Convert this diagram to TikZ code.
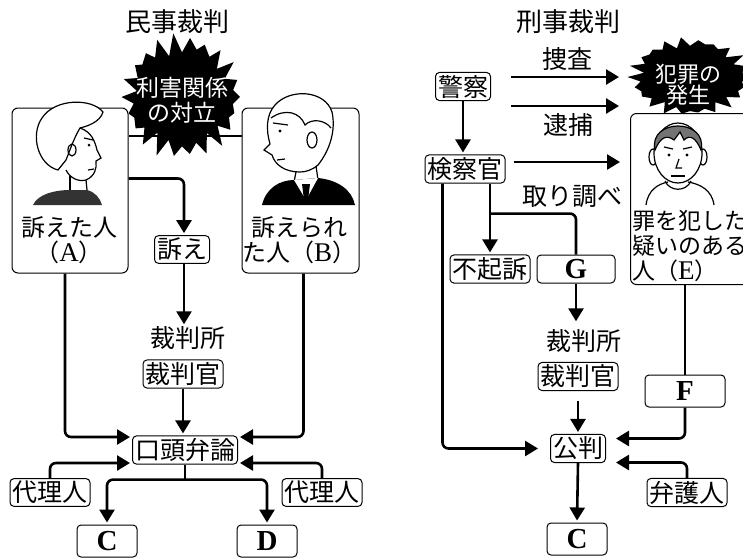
\documentclass[tikz,border=0pt]{standalone}
\usepackage{fontspec}
\usetikzlibrary{arrows.meta,calc,positioning}
\newfontfamily\jp{Noto Sans CJK JP}
\newfontfamily\lt{Liberation Serif}
\newcommand{\letr}[1]{{\lt\fontsize{27}{25}\selectfont #1}}
% spiky burst: centre x, centre y, outer rx, outer ry, inner rx, inner ry
\newcommand{\spiky}[6]{%
  \fill[black] plot[samples at={0,...,43}, variable=\k]
    ({#1+(#3*(1+0.06*sin(\k*137))-(#3-#5)*mod(\k,2))*cos(\k*360/44)},
     {#2+(#4*(1+0.06*sin(\k*137))-(#4-#6)*mod(\k,2))*sin(\k*360/44)}) -- cycle;}

\begin{document}
\begin{tikzpicture}[x=1pt,y=-1pt,
  box/.style={draw,rounded corners=4pt,line width=1pt,inner sep=2.5pt,
    font=\jp\fontsize{25}{28}\selectfont},
  lbox/.style={draw,rounded corners=4pt,line width=1pt,minimum width=60pt,
    minimum height=32pt,inner sep=0pt,font=\lt\bfseries\fontsize{29}{26}\selectfont},
  person/.style={draw,rounded corners=6pt,line width=1pt},
  lab/.style={inner sep=0pt,font=\jp\fontsize{25}{28}\selectfont},
  burst/.style={inner sep=0pt,text=white,align=center},
  arr/.style={line width=2.6pt,-{Triangle[length=13pt,width=15pt]},shorten >=2pt},
  con/.style={line width=2.6pt}]
\useasboundingbox (0,0) rectangle (743,557);
\clip (0,0) rectangle (743,557);

%%% civil case
\node[lab,font=\jp\fontsize{26}{28}\selectfont] (title1) at (177,22) {民事裁判};

\node[person,minimum width=116pt,minimum height=165pt] (boxA) at (70,190.5) {};
\node[person,minimum width=117pt,minimum height=165pt] (boxB) at (300.5,190.5) {};
\draw[line width=2pt] ([yshift=55pt]boxA.east) -- ([yshift=55pt]boxB.west);

% woman
\begin{scope}[line width=1.2pt]
\draw[fill=white] (58,170) .. controls (38,165) and (30,135) .. (42,118)
  .. controls (55,98) and (92,98) .. (103,112)
  .. controls (100,122) and (88,126) .. (80,128)
  .. controls (74,138) and (70,150) .. (66,160) -- cycle;
\draw (80,128) .. controls (92,132) and (95,142) .. (97,150) -- (101,158) -- (96,161)
  .. controls (97,168) and (95,176) .. (86,180) .. controls (78,182) and (70,178) .. (66,170);
\fill (89,145) circle (1.5);
\draw (84,138) -- (93,140);
\draw (72,150) ellipse (4 and 6);
\draw (88,170) -- (94,169);
\draw (70,176) -- (70,190);
\draw (86,180) -- (87,190);
\fill[black!80] (33,205) .. controls (38,194) and (55,190) .. (70,190) -- (87,190)
  .. controls (95,192) and (100,198) .. (102,205) -- cycle;
\end{scope}

% man
\begin{scope}[line width=1.2pt]
\draw[fill=white] (300,172) .. controls (285,172) and (275,165) .. (272,155) -- (264,150) -- (270,144)
  .. controls (266,130) and (266,115) .. (275,105) .. controls (290,88) and (325,90) .. (332,112)
  .. controls (336,130) and (330,150) .. (318,165) .. controls (312,170) and (306,172) .. (300,172) -- cycle;
\draw (271,118) .. controls (285,108) and (300,112) .. (305,125)
  .. controls (312,118) and (325,120) .. (331,128);
\draw (312,140) ellipse (5 and 8);
\fill (280,131) circle (1.6);
\draw (273,123) -- (288,125);
\draw (277,160) -- (285,159);
\draw (296,172) -- (294,182);
\draw (316,166) -- (318,180);
\fill (262,205) .. controls (266,188) and (280,180) .. (294,180) -- (318,178)
  .. controls (338,180) and (352,190) .. (355,205) -- cycle;
\fill[white] (294,180) -- (306,200) -- (318,178) -- cycle;
\fill (302,184) -- (310,184) -- (308,200) -- (304,200) -- cycle;
\end{scope}

\spiky{182}{97}{58}{61}{49}{46}
\node[burst,font=\jp\fontsize{23}{25}\selectfont] (conflict) at (182,100) {利害関係\\の対立};

\node[lab,align=center,font=\jp\fontsize{24}{25}\selectfont] (nameA) at (69,240.5) {訴えた人\\（\letr{A}）};
\node[lab,align=center,font=\jp\fontsize{24}{25}\selectfont] (nameB) at (299,240.5) {訴えられ\\た人（\letr{B}）};

\node[box] (uttae) at (182,249.5) {訴え};
\node[lab] (court1) at (188,338) {裁判所};
\node[box] (judge1) at (183,374) {裁判官};
\node[box] (oral) at (185,450) {口頭弁論};
\node[box] (agentL) at (50,492.5) {代理人};
\node[box] (agentR) at (322,492.5) {代理人};
\node[lbox] (resC) at (107,541) {C};
\node[lbox] (resD) at (267,541) {D};

\draw[arr,rounded corners=6pt] ([yshift=12pt]boxA.east) -| ([xshift=2pt]uttae.north);
\draw[arr] ([xshift=2pt]uttae.south) -- ([xshift=2pt]uttae.south |- court1.north);
\draw[arr] (judge1.south) -- (judge1.south |- oral.north);
\draw[arr,rounded corners=6pt] ([xshift=-5pt]boxA.south) |- ($(oral.west)+(0,-13)$);
\draw[arr,rounded corners=6pt] ([xshift=3pt]boxB.south) |- ($(oral.east)+(0,-13)$);
\draw[arr,rounded corners=6pt] (agentL.north) |- ($(oral.west)+(0,13)$);
\draw[arr,rounded corners=6pt] (agentR.north) |- ($(oral.east)+(0,13)$);
\coordinate (split) at ($(oral.south)+(0,15)$);
\draw[con] (oral.south) -- (split);
\draw[arr,rounded corners=6pt] (split) -| (resC.north);
\draw[arr,rounded corners=6pt] (split) -| (resD.north);

%%% criminal case
\node[lab,font=\jp\fontsize{26}{28}\selectfont] (title2) at (568,22) {刑事裁判};

\node[person,minimum width=150pt,minimum height=171pt,anchor=north west] (boxE) at (630,113) {};

% boy
\begin{scope}[line width=1.2pt]
\draw (646,205) .. controls (648,190) and (658,184) .. (668,182);
\draw (688,182) .. controls (700,184) and (712,190) .. (714,205);
\draw (665,181) .. controls (670,192) and (686,192) .. (691,181);
\draw (653,157) ellipse (4 and 8);
\draw (703,157) ellipse (4 and 8);
\draw[fill=white] (678,153) ellipse (24 and 30);
\draw[fill=black!55] (655,150) .. controls (648,118) and (708,118) .. (701,150)
  .. controls (696,138) and (690,134) .. (684,140) -- (680,132) -- (674,140)
  .. controls (666,134) and (660,138) .. (655,150) -- cycle;
\draw (664,147) -- (673,149);
\draw (683,149) -- (692,147);
\fill (669,155) circle (1.6);
\fill (687,155) circle (1.6);
\draw (679,159) -- (676,168) -- (682,168);
\draw (671,176) -- (685,176);
\end{scope}

\spiky{690}{77}{60}{38}{50}{32}
\node[burst,font=\jp\fontsize{22}{21}\selectfont] (crime) at (688,85) {犯罪の\\発生};

\node[lab,align=left,anchor=west,font=\jp\fontsize{23}{25}\selectfont] (nameE) at (632,246)
  {罪を犯した\\疑いのある\\人（\letr{E}）};

\node[box] (police) at (463,86.5) {警察};
\node[lab] (sousa) at (567,59) {捜査};
\node[lab] (taiho) at (568,125) {逮捕};
\node[box] (prosecutor) at (465,169) {検察官};
\node[lab] (shirabe) at (572,197) {取り調べ};
\node[box] (fukiso) at (490,269) {不起訴};
\node[lbox,minimum width=78pt,minimum height=28pt] (caseG) at (576,269) {G};
\node[lab] (court2) at (584,341) {裁判所};
\node[box] (judge2) at (578,376.5) {裁判官};
\node[box] (trial) at (578,448.5) {公判};
\node[lbox,minimum width=80pt] (caseF) at (685,391) {F};
\node[box] (lawyer) at (687,492.5) {弁護人};
\node[lbox] (resC2) at (577,539) {C};

\draw[arr] ([xshift=20pt]police.east |- 0,77) -- ++(110,0);
\draw[arr] ([xshift=20pt]police.east |- 0,106) -- ++(110,0);
\draw[arr] (police.south) -- (police.south |- prosecutor.north);
\draw[arr,shorten >=10pt] ([shift={(8,-7)}]prosecutor.east) -- (boxE.west |- 0,162);
\draw[arr] (prosecutor.south -| fukiso.north) -- (fukiso.north);
\coordinate (fork) at ($(prosecutor.south -| fukiso.north)+(0,30)$);
\draw[con,rounded corners=6pt] (fork) -| (caseG.north);
\draw[arr,rounded corners=6pt,shorten >=12pt] ([xshift=18pt]prosecutor.south west) |- (trial.west);
\draw[arr,shorten >=8pt] (caseG.south) -- (caseG.south |- court2.north);
\draw[arr,shorten <=10pt] (judge2.south) -- (trial.north);
\draw[con] (caseF.north |- boxE.south) -- (caseF.north);
\draw[arr,rounded corners=6pt,shorten >=10pt] (caseF.south) |- ($(trial.east)+(0,-10)$);
\draw[arr,rounded corners=6pt,shorten >=10pt] (lawyer.north) |- ($(trial.east)+(0,14)$);
\draw[arr] (trial.south) -- (resC2.north);
\end{tikzpicture}
\end{document}
